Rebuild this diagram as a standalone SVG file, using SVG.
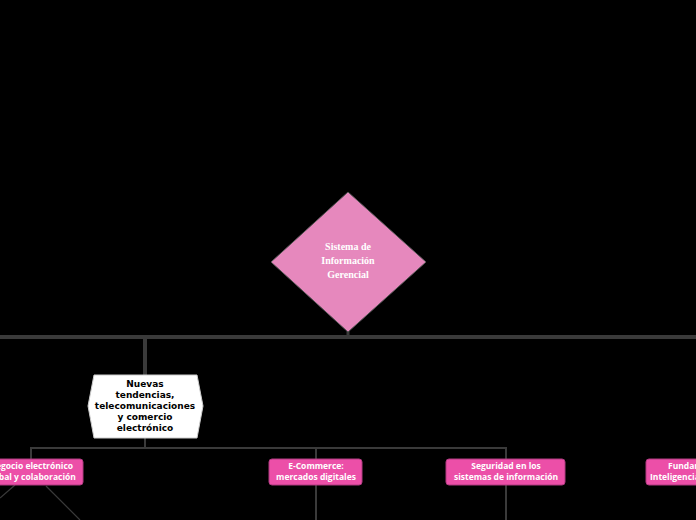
<svg xmlns="http://www.w3.org/2000/svg" width="696" height="520" viewBox="0 0 696 520">
<style>
.pk{fill:#ec4fa8;stroke:#b03a80;stroke-width:1}
.pt{font-family:"Open Sans","DejaVu Sans",sans-serif;font-weight:bold;font-size:8.5px;fill:#fff;text-anchor:middle}
.ln{stroke:#3a3a3a;fill:none}
</style>
<rect width="696" height="520" fill="#000"/>
<g id="connectors">
<line class="ln" x1="0" y1="337" x2="696" y2="337" stroke-width="4" stroke="#444"/>
<line class="ln" x1="348" y1="330" x2="348" y2="337" stroke-width="3"/>
<line class="ln" x1="145" y1="337" x2="145" y2="375" stroke-width="4" stroke="#444"/>
<line class="ln" x1="145" y1="438" x2="145" y2="448" stroke-width="2"/>
<polyline class="ln" points="31,459 31,448 506,448 506,459" stroke-width="2"/>
<line class="ln" x1="316" y1="448" x2="316" y2="459" stroke-width="2"/>
<line class="ln" x1="316" y1="485" x2="316" y2="520" stroke-width="2"/>
<line class="ln" x1="506" y1="485" x2="506" y2="520" stroke-width="2"/>
<line class="ln" x1="15" y1="485" x2="0" y2="498" stroke-width="1.2" stroke="#666"/>
<line class="ln" x1="46" y1="486" x2="80" y2="520" stroke-width="1.2" stroke="#666"/>
</g>
<g id="root">
<polygon points="348,192 426,262 348,332 271,262" fill="#e688bd" stroke="#555" stroke-width="1"/>
<text font-family="'Liberation Serif',serif" font-weight="bold" font-size="10px" fill="#fff" text-anchor="middle"><tspan x="348" y="250">Sistema de</tspan><tspan x="348" y="264">Información</tspan><tspan x="348" y="278">Gerencial</tspan></text>
</g>
<g id="n1">
<polygon points="94,375 197,375 203,406 197,438 94,438 88,406" fill="#fff" stroke="#ccc"/>
<text font-family="'DejaVu Sans',sans-serif" font-weight="bold" font-size="9px" fill="#000" text-anchor="middle"><tspan x="145" y="387">Nuevas</tspan><tspan x="145" y="398">tendencias,</tspan><tspan x="145" y="409">telecomunicaciones</tspan><tspan x="145" y="420">y comercio</tspan><tspan x="145" y="431">electrónico</tspan></text>
</g>
<g id="n2"><rect class="pk" x="-40" y="459" width="123" height="26" rx="3"/><text class="pt"><tspan x="31" y="469">Negocio electrónico</tspan><tspan x="31" y="480">global y colaboración</tspan></text></g>
<g id="n3"><rect class="pk" x="269" y="459" width="93" height="26" rx="3"/><text class="pt"><tspan x="316" y="469">E-Commerce:</tspan><tspan x="316" y="480">mercados digitales</tspan></text></g>
<g id="n4"><rect class="pk" x="446" y="459" width="119" height="26" rx="3"/><text class="pt"><tspan x="506" y="469">Seguridad en los</tspan><tspan x="506" y="480">sistemas de información</tspan></text></g>
<g id="n5"><rect class="pk" x="646" y="459" width="110" height="26" rx="3"/><text class="pt" style="text-anchor:start"><tspan x="668" y="469">Fundamentos de</tspan><tspan x="650" y="480">Inteligencia de negocios</tspan></text></g>
</svg>
